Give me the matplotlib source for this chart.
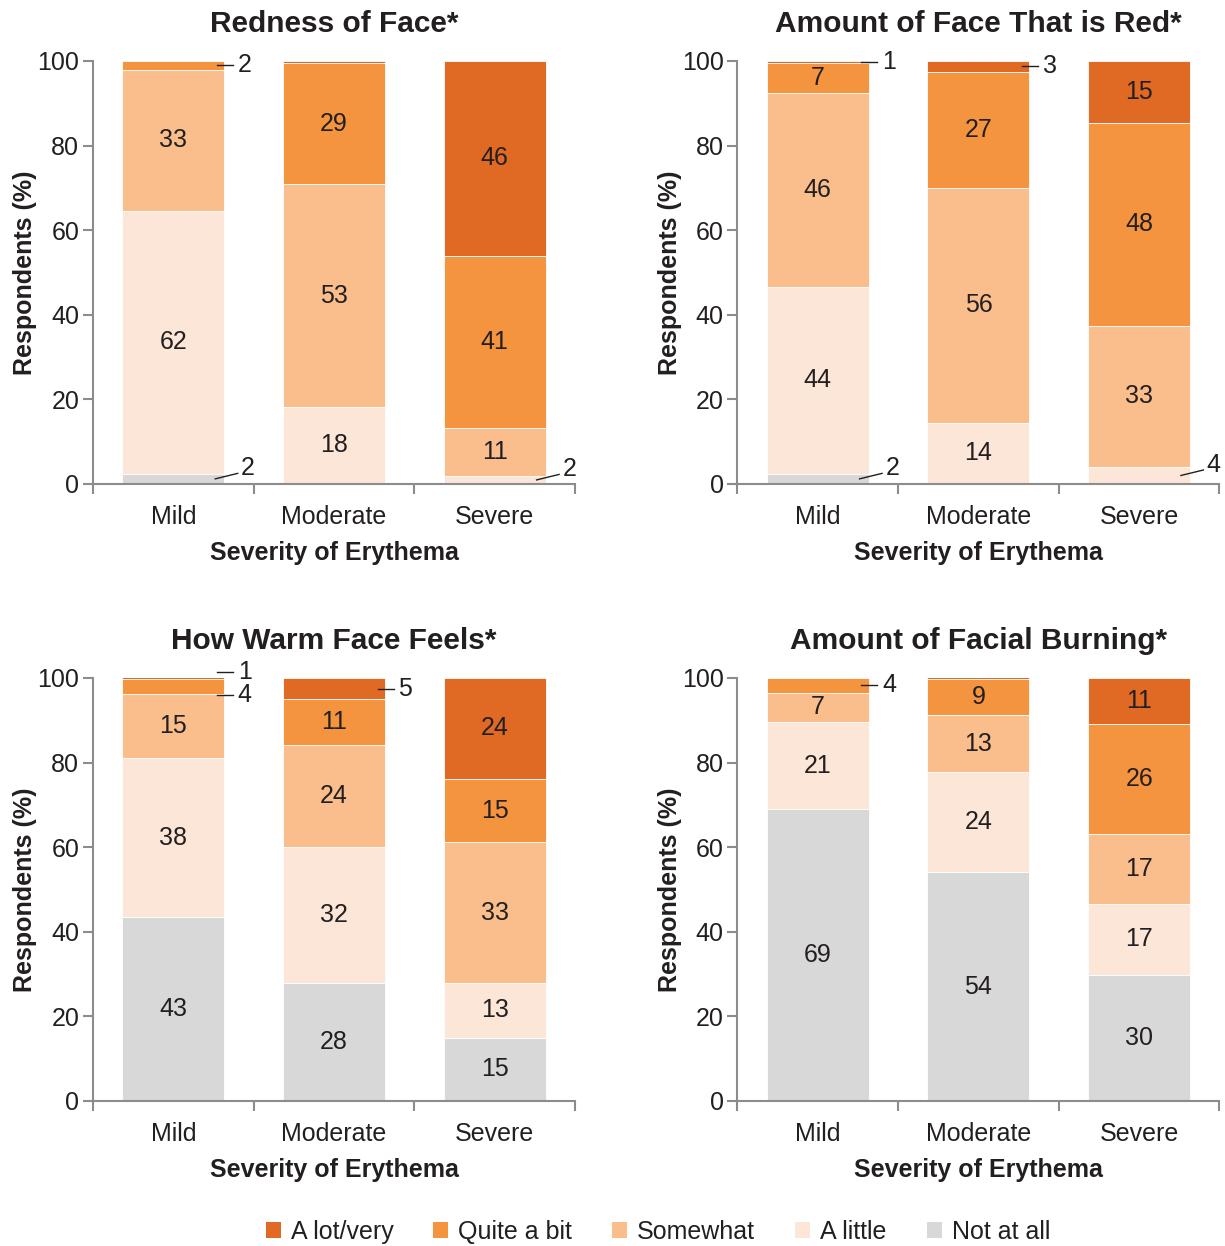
import matplotlib
matplotlib.use("Agg")
import matplotlib.pyplot as plt
from matplotlib.patches import Patch

plt.rcParams['font.family'] = ['Liberation Sans', 'DejaVu Sans']

# data: share of respondents (%) per answer, bottom -> top
categories = ['Not at all', 'A little', 'Somewhat', 'Quite a bit', 'A lot/very']
colors = ['#d9d8d8', '#fbe6d8', '#f9be8c', '#f5943e', '#e06a24']
severity = ['Mild', 'Moderate', 'Severe']
titles = ['Redness of Face*', 'Amount of Face That is Red*',
          'How Warm Face Feels*', 'Amount of Facial Burning*']

# each panel: one list per severity (Mild, Moderate, Severe), values per category
redness = [[2.4, 62.1, 33.4, 2.1, 0.0],
           [0.0, 18.2, 52.6, 28.8, 0.5],
           [0.0, 1.9, 11.3, 40.6, 46.3]]
amount_red = [[2.4, 44.2, 45.8, 7.1, 0.6],
              [0.0, 14.4, 55.6, 27.4, 2.6],
              [0.0, 4.0, 33.4, 47.9, 14.7]]
warm = [[43.4, 37.6, 15.1, 3.6, 0.9],
        [27.9, 32.1, 24.2, 10.8, 5.0],
        [14.9, 13.0, 33.3, 14.9, 23.9]]
burning = [[69.0, 20.6, 6.9, 3.6, 0.0],
           [54.1, 23.7, 13.4, 8.6, 0.4],
           [29.8, 16.8, 16.6, 26.0, 10.9]]
panels = [redness, amount_red, warm, burning]

# small vertical nudges for crowded outside labels (panel, bar, category)
nudge = {(2, 0, 3): -2.0, (2, 0, 4): 1.2}

txt = '#231f20'
grey = '#8c8c8c'
width = 0.635
fs = 18

fig = plt.figure(figsize=(12.25, 12.46), dpi=100)
positions = [[0.076, 0.6116, 0.3935, 0.3395], [0.602, 0.6116, 0.3935, 0.3395],
             [0.076, 0.1164, 0.3935, 0.3395], [0.602, 0.1164, 0.3935, 0.3395]]

for p, (data, title, pos) in enumerate(zip(panels, titles, positions)):
    ax = fig.add_axes(pos)
    for b, vals in enumerate(data):
        bottom = 0
        for c, v in enumerate(vals):
            if v > 0:
                ax.bar(b, v, width=width, bottom=bottom, color=colors[c],
                       edgecolor='white', linewidth=0.6)
            lab = round(v)
            mid = bottom + v / 2
            if lab >= 1:
                if v >= 6:
                    ax.text(b, mid, str(lab), ha='center', va='center',
                            fontsize=fs, color=txt)
                elif bottom < 5:
                    ax.plot([b + 0.26, b + 0.40], [mid, mid + 1.3], color=txt,
                            lw=1.0, clip_on=False)
                    ax.text(b + 0.42, mid + 2.5, str(lab), ha='left', va='center',
                            fontsize=fs, color=txt, clip_on=False)
                else:
                    y = mid + nudge.get((p, b, c), 0)
                    ax.plot([b + 0.27, b + 0.37], [y, y], color=txt, lw=1.0,
                            clip_on=False)
                    ax.text(b + 0.40, y, str(lab), ha='left', va='center',
                            fontsize=fs, color=txt, clip_on=False)
            bottom += v

    ax.set_xlim(-0.5, 2.5)
    ax.set_ylim(0, 100)
    ax.set_yticks([0, 20, 40, 60, 80, 100])
    ax.set_xticks([0, 1, 2])
    ax.set_xticklabels(severity)
    ax.set_xticks([-0.5, 0.5, 1.5, 2.5], minor=True)
    ax.tick_params(axis='x', which='major', length=0, pad=15, labelsize=fs,
                   labelcolor=txt)
    ax.tick_params(axis='x', which='minor', length=7, width=1.5, color=grey)
    ax.tick_params(axis='y', length=7, width=1.5, color=grey, labelsize=fs,
                   labelcolor=txt, pad=3)
    for s in ['top', 'right']:
        ax.spines[s].set_visible(False)
    for s in ['left', 'bottom']:
        ax.spines[s].set_color(grey)
        ax.spines[s].set_linewidth(1.5)
    ax.set_title(title, fontsize=21.5, fontweight='bold', color=txt, pad=21)
    ax.set_xlabel('Severity of Erythema', fontsize=fs, fontweight='bold',
                  color=txt, labelpad=9)
    ax.set_ylabel('Respondents (%)', fontsize=fs, fontweight='bold',
                  color=txt, labelpad=0)

handles = [Patch(facecolor=colors[i], edgecolor='none', label=categories[i])
           for i in range(4, -1, -1)]
fig.legend(handles=handles, loc='center', bbox_to_anchor=(0.537, 0.0115),
           ncol=5, frameon=False, fontsize=fs, handlelength=0.6,
           handleheight=0.6, handletextpad=0.4, columnspacing=1.6,
           labelcolor=txt)

fig.savefig('out.png', dpi=100)
